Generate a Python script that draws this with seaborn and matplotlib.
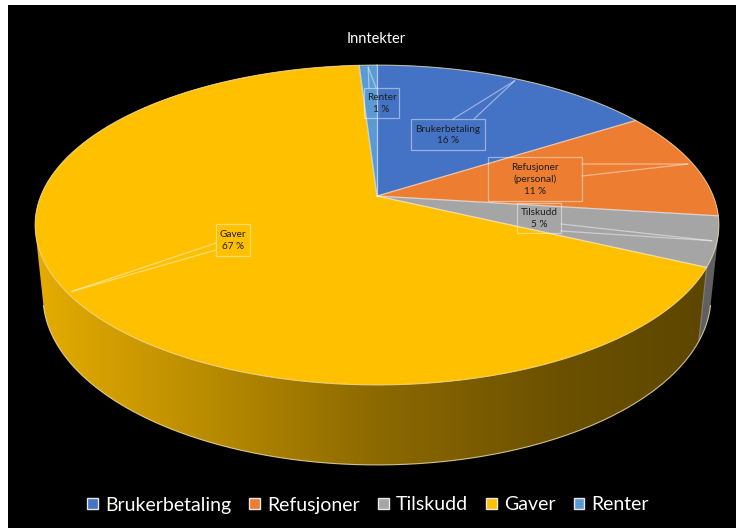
import numpy as np
import matplotlib.pyplot as plt
from matplotlib.patches import Polygon, Rectangle, Patch
import seaborn as sns

# data
categories = ["Brukerbetaling", "Refusjoner", "Tilskudd", "Gaver", "Renter"]
label_texts = ["Brukerbetaling\n16 %", "Refusjoner\n(personal)\n11 %", "Tilskudd\n5 %",
               "Gaver\n67 %", "Renter\n1 %"]
shares = [16, 11, 5, 67, 1]
title = "Inntekter"

colors = sns.color_palette(["#4472C4", "#ED7D31", "#A5A5A5", "#FFC000", "#5B9BD5"])

# label boxes (x0, y0, x1, y1) and leader base points, in pixels
label_boxes = [(411, 119, 485, 150), (488, 157, 582, 201), (517, 203, 561, 233),
               (216, 224, 250, 256), (364, 88, 399, 118)]
leader_bases = [((453, 119), (474, 119)), ((582, 164), (582, 176)), ((561, 224), (561, 231)),
                ((216, 243), (216, 250)), ((369, 88), (376, 88))]

# 3d view of the disc
CX, CY = 377, 196
S, C = 0.46, 0.887          # sin / cos of the tilt
D, F = 4.89, 1644
H = 0.24                    # thickness


def project(theta, z):
    x, y = np.sin(theta), np.cos(theta)
    depth = y * C - z * S
    k = F / (D + depth)
    return CX + x * k, CY - (y * S + z * C) * k


def side_shade(px):
    return np.interp(px, [36, 377, 560, 719], [0.9, 0.55, 0.42, 0.36])


sns.set_theme(style="dark", rc={"axes.facecolor": "black", "figure.facecolor": "white"})
plt.rcParams["font.family"] = ["Lato", "DejaVu Sans"]

fig = plt.figure(figsize=(7.39, 5.28), dpi=100)
ax = fig.add_axes([8 / 739, 0, 728 / 739, 523 / 528])
ax.set_facecolor("black")
ax.set_xticks([])
ax.set_yticks([])
for sp in ax.spines.values():
    sp.set_visible(False)

total = sum(shares)
edges = np.concatenate([[0], np.cumsum(shares)]) / total * 2 * np.pi

# visible part of the side wall
t_min = np.arccos(-1 / (D * C))
t_max = 2 * np.pi - t_min
xcols = np.arange(8, 737)
shade = side_shade(xcols)

for i, col in enumerate(colors):
    a, b = max(edges[i], t_min), min(edges[i + 1], t_max)
    if b <= a:
        continue
    ts = np.linspace(a, b, 200)
    pts = [project(t, 0) for t in ts] + [project(t, -H) for t in ts[::-1]]
    poly = Polygon(pts, closed=True, fc="none", ec="none")
    ax.add_patch(poly)
    sh = shade + (0.22 if categories[i] == "Tilskudd" else 0)
    img = np.clip(np.array(col)[None, None, :] * sh[None, :, None], 0, 1)
    im = ax.imshow(img, extent=(7.5, 736.5, 480, 150), aspect="auto",
                   interpolation="bilinear", zorder=1)
    im.set_clip_path(poly)

# visible bottom rim and side edge at gray/gold boundary
tv = np.linspace(t_min, t_max, 500)
bx, by = zip(*[project(t, -H) for t in tv])
ax.plot(bx, by, color="#f3e3b0", lw=0.8, alpha=0.8, zorder=2)
for t in edges[1:-1]:
    if t_min < t < t_max:
        (x0, y0), (x1, y1) = project(t, 0), project(t, -H)
        ax.plot([x0, x1], [y0, y1], color="#9a9a9a", lw=0.8, alpha=0.7, zorder=2)

# top surface
for i, col in enumerate(colors):
    ts = np.linspace(edges[i], edges[i + 1], max(4, int(shares[i] * 6)))
    pts = [(CX, CY)] + [project(t, 0) for t in ts]
    ax.add_patch(Polygon(pts, closed=True, fc=col, ec=col, lw=0.3, zorder=3))

for t in edges[:-1]:
    x1, y1 = project(t, 0)
    ax.plot([CX, x1], [CY, y1], color="white", lw=0.9, alpha=0.6, zorder=4)

rx, ry = zip(*[project(t, 0) for t in np.linspace(0, 2 * np.pi, 720)])
ax.plot(rx, ry, color="#f3e3b0", lw=0.8, alpha=0.7, zorder=4)

# data labels with leader lines
for i, txt in enumerate(label_texts):
    x0, y0, x1, y1 = label_boxes[i]
    ax.add_patch(Rectangle((x0, y0), x1 - x0, y1 - y0, fc="none", ec="white",
                           lw=0.9, alpha=0.45, zorder=5))
    tm = (edges[i] + edges[i + 1]) / 2
    tx = CX + (project(tm, 0)[0] - CX) * 0.985
    ty = CY + (project(tm, 0)[1] - CY) * 0.985
    for bx0, by0 in leader_bases[i]:
        ax.plot([bx0, tx], [by0, ty], color="white", lw=0.9, alpha=0.45, zorder=5)
    ax.text((x0 + x1) / 2, (y0 + y1) / 2 + 0.5, txt, ha="center", va="center",
            fontsize=7.2, color="#1e1e1e", linespacing=1.35, zorder=6)

ax.set_xlim(8, 736)
ax.set_ylim(528, 5)

ax.text(376, 39, title, ha="center", va="center", fontsize=10.5, color="white")

handles = [Patch(fc=c, ec="#e6e6e6", lw=1) for c in colors]
fig.legend(handles, categories, loc="center", bbox_to_anchor=(368 / 739, 1 - 505 / 528),
           ncol=5, frameon=False, fontsize=14, labelcolor="white", handlelength=0.55,
           handleheight=0.55, handletextpad=0.35, columnspacing=0.95, borderaxespad=0)

fig.savefig("out.png", dpi=100, facecolor="white")
